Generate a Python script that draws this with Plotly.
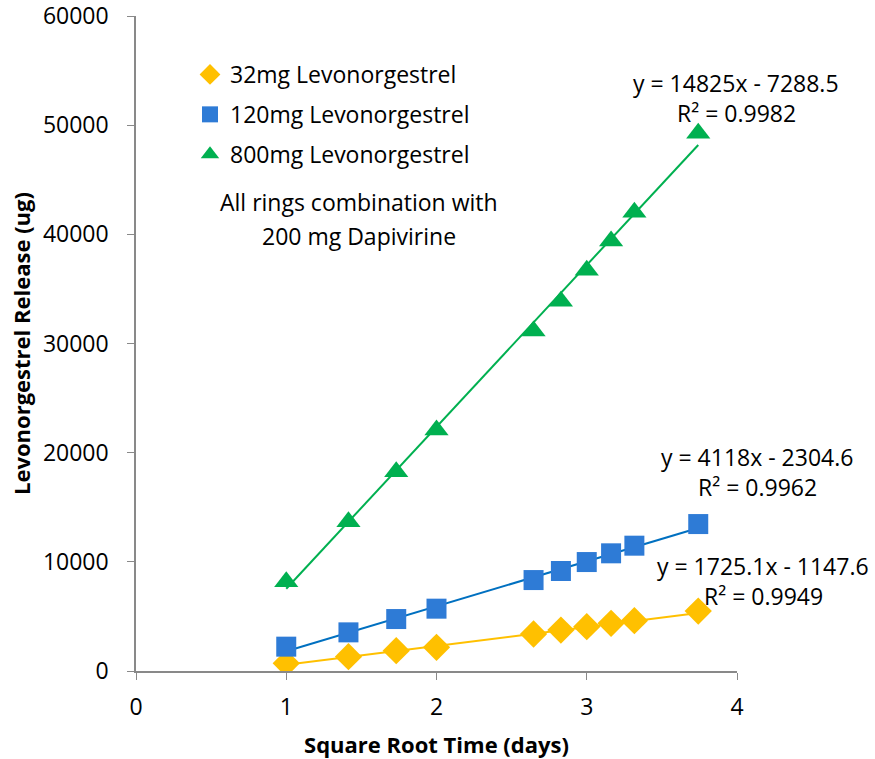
import plotly.graph_objects as go

# Square-root time (days) for days 1,2,3,4,7,8,9,10,11,14
sqrt_time = [1.0, 1.414, 1.732, 2.0, 2.646, 2.828, 3.0, 3.162, 3.317, 3.742]

lng_32 = [700, 1310, 1860, 2170, 3390, 3750, 4060, 4370, 4610, 5490]
lng_120 = [2230, 3540, 4760, 5710, 8330, 9160, 9980, 10780, 11480, 13460]
lng_800 = [8180, 13670, 18250, 22070, 31140, 33880, 36720, 39380, 42030, 49270]

series_names = ["32mg Levonorgestrel", "120mg Levonorgestrel", "800mg Levonorgestrel"]
# Trendline coefficients as printed on the chart
slopes = [1725.1, 4118, 14825]
intercepts = [-1147.6, -2304.6, -7288.5]
r2_values = ["0.9949", "0.9962", "0.9982"]
eq_labels = ["y = 1725.1x - 1147.6", "y = 4118x - 2304.6", "y = 14825x - 7288.5"]

x_ticks = [0, 1, 2, 3, 4]
y_ticks = [0, 10000, 20000, 30000, 40000, 50000, 60000]

marker_colors = ["#FFC000", "#2E7BD6", "#00B050"]
line_colors = ["#FFC000", "#0070C0", "#00B050"]
symbols = ["diamond", "square", "triangle-up"]
sizes = [21, 20, 21]

FONT = "Open Sans, sans-serif"
FS = 23

# page geometry (body margin removed via post_script)
PL, PR, PT, PB = 136, 737, 16, 671
W, H = 875, 759


def px_x(p):
    return (p - PL) / (PR - PL)


def px_y(p):
    return (PB - p) / (PB - PT)


fig = go.Figure()
all_series = [lng_32, lng_120, lng_800]

for i, ys in enumerate(all_series):
    x0, x1 = sqrt_time[0], sqrt_time[-1]
    fig.add_trace(go.Scatter(
        x=[x0, x1], y=[slopes[i] * x0 + intercepts[i], slopes[i] * x1 + intercepts[i]],
        mode="lines", line=dict(color=line_colors[i], width=2),
        showlegend=False, hoverinfo="skip"))

for i, ys in enumerate(all_series):
    fig.add_trace(go.Scatter(
        x=sqrt_time, y=ys, mode="markers", name=series_names[i],
        legendgroup=str(i),
        marker=dict(symbol=symbols[i], size=sizes[i], color=marker_colors[i],
                    line=dict(width=0))))

# trendline labels (equation line, R² line)
label_pos = [(763, 566, 596), (757, 457, 487), (736, 83, 113)]
for i, (px, py1, py2) in enumerate(label_pos):
    fig.add_annotation(xref="paper", yref="paper", x=px_x(px), y=px_y(py1),
                       text=eq_labels[i], showarrow=False, xanchor="center", yanchor="middle",
                       borderpad=0, font=dict(family=FONT, size=FS, color="#000000"))
    fig.add_annotation(xref="paper", yref="paper", x=px_x(px), y=px_y(py2),
                       text="R² = " + r2_values[i], showarrow=False, xanchor="center",
                       yanchor="middle", borderpad=0,
                       font=dict(family=FONT, size=FS, color="#000000"))

note_lines = ["All rings combination with", "200 mg Dapivirine"]
for txt, py in zip(note_lines, [202, 236]):
    fig.add_annotation(xref="paper", yref="paper", x=px_x(359), y=px_y(py),
                       text=txt, showarrow=False, xanchor="center", yanchor="middle",
                       font=dict(family=FONT, size=FS, color="#000000"))

fig.update_layout(
    width=W, height=H,
    margin=dict(l=PL, r=W - PR, t=PT, b=H - PB, autoexpand=False),
    paper_bgcolor="white", plot_bgcolor="white",
    font=dict(family=FONT, size=FS, color="#000000"),
    showlegend=True,
    legend=dict(x=px_x(190), y=px_y(53), xanchor="left", yanchor="top",
                bgcolor="rgba(0,0,0,0)", font=dict(family=FONT, size=FS),
                tracegroupgap=7, itemwidth=30),
    xaxis=dict(range=[0, 4], tickvals=x_ticks, tickformat="d", showgrid=False, zeroline=False,
               showline=True, linecolor="#898989", linewidth=1.5, automargin=False,
               ticks="outside", ticklen=7, tickcolor="#898989",
               tickfont=dict(family=FONT, size=FS), ticklabelstandoff=8,
               title=dict(text="<b>Square Root Time (days)</b>",
                          font=dict(family=FONT, size=22), standoff=24)),
    yaxis=dict(range=[0, 60000], tickvals=y_ticks, tickformat="d", showgrid=False,
               zeroline=False, showline=True, linecolor="#898989", linewidth=1.5,
               automargin=False, ticklabeloverflow="allow",
               ticks="outside", ticklen=7, tickcolor="#898989",
               tickfont=dict(family=FONT, size=FS), ticklabelstandoff=14,
               title=dict(text="<b>Levonorgestrel Release (ug)</b>",
                          font=dict(family=FONT, size=22), standoff=6)),
)

fig.write_html("out.html", config={"displayModeBar": False},
               post_script="document.body.style.margin='0';document.body.style.overflow='hidden';")
